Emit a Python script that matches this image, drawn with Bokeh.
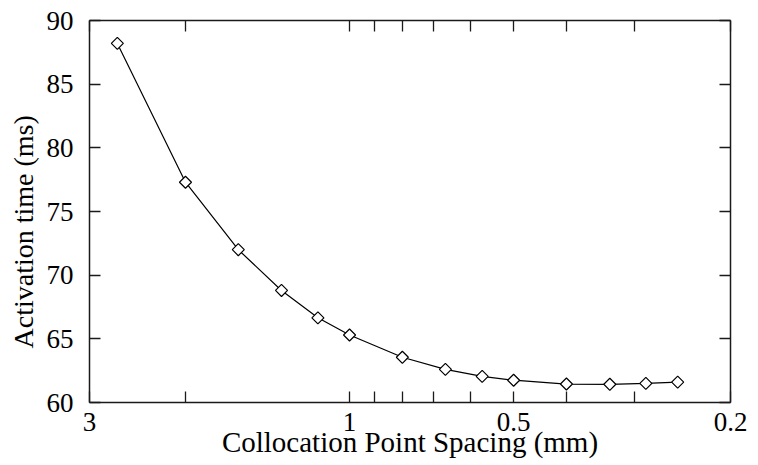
import numpy as np
from bokeh.plotting import figure
from bokeh.models import (Range1d, FixedTicker, LogAxis, LinearAxis,
                          CustomJSTickFormatter, ColumnDataSource, Title)
from bokeh.embed import file_html
from bokeh.resources import INLINE

# Data
spacing_mm = [2.667, 2.0, 1.6, 1.333, 1.143, 1.0, 0.8, 0.667, 0.571, 0.5, 0.4, 0.333, 0.286, 0.25]
activation_ms = [88.2, 77.3, 72.0, 68.8, 66.65, 65.3, 63.55, 62.6, 62.05, 61.75, 61.45, 61.43, 61.5, 61.6]
x_major_ticks = [3, 1, 0.5, 0.2]
x_minor_ticks = [2, 0.9, 0.8, 0.7, 0.6, 0.4, 0.3]
y_ticks = [60, 65, 70, 75, 80, 85, 90]

FONT = "Liberation Serif"
AX = "#1a1a1a"

p = figure(output_backend="svg", toolbar_location=None,
           x_axis_type="log",
           x_range=Range1d(3, 0.2), y_range=Range1d(60, 90),
           frame_width=641, frame_height=382,
           min_border_left=89, min_border_top=20,
           min_border_right=24, min_border_bottom=58)
p.outline_line_color = None
p.grid.visible = False
p.background_fill_color = "white"

src = ColumnDataSource(dict(x=spacing_mm, y=activation_ms))
p.line("x", "y", source=src, line_color="black", line_width=1.2)
p.scatter("x", "y", source=src, marker="square", angle=np.pi / 4, size=8.5,
          fill_color="white", line_color="black", line_width=1.2)

xt = FixedTicker(ticks=x_major_ticks, minor_ticks=x_minor_ticks)
yt = FixedTicker(ticks=y_ticks, minor_ticks=[])


def style(ax):
    ax.axis_line_color = AX
    ax.axis_line_width = 1.5
    ax.major_tick_line_color = AX
    ax.minor_tick_line_color = AX
    ax.major_tick_line_width = 1.3
    ax.minor_tick_line_width = 1.3
    ax.major_tick_in = 11
    ax.major_tick_out = 0
    ax.minor_tick_in = 11
    ax.minor_tick_out = 0
    ax.major_label_text_font = FONT
    ax.major_label_text_font_size = "27px"
    ax.major_label_text_color = "black"
    ax.axis_label_text_font = FONT
    ax.axis_label_text_font_size = "29px"
    ax.axis_label_text_font_style = "normal"
    ax.axis_label_text_color = "black"


xa = p.xaxis[0]
xa.ticker = xt
style(xa)
xa.major_label_standoff = 10
xa.axis_label = "Collocation Point Spacing (mm)"
xa.axis_label_standoff = -8

ya = p.yaxis[0]
ya.ticker = yt
style(ya)
ya.major_label_standoff = 16
ya.axis_label = None

ylab = Title(text="Activation time (ms)", align="left", offset=54,
             text_font=FONT, text_font_size="28px", text_font_style="normal",
             text_color="black", standoff=9)
p.add_layout(ylab, "left")

blank = CustomJSTickFormatter(code="return ''")
top = LogAxis(ticker=xt, formatter=blank)
style(top)
top.major_label_standoff = 0
p.add_layout(top, "above")
right = LinearAxis(ticker=yt, formatter=blank)
style(right)
right.major_label_standoff = 0
p.add_layout(right, "right")

open("out.html", "w").write(file_html(p, INLINE))
